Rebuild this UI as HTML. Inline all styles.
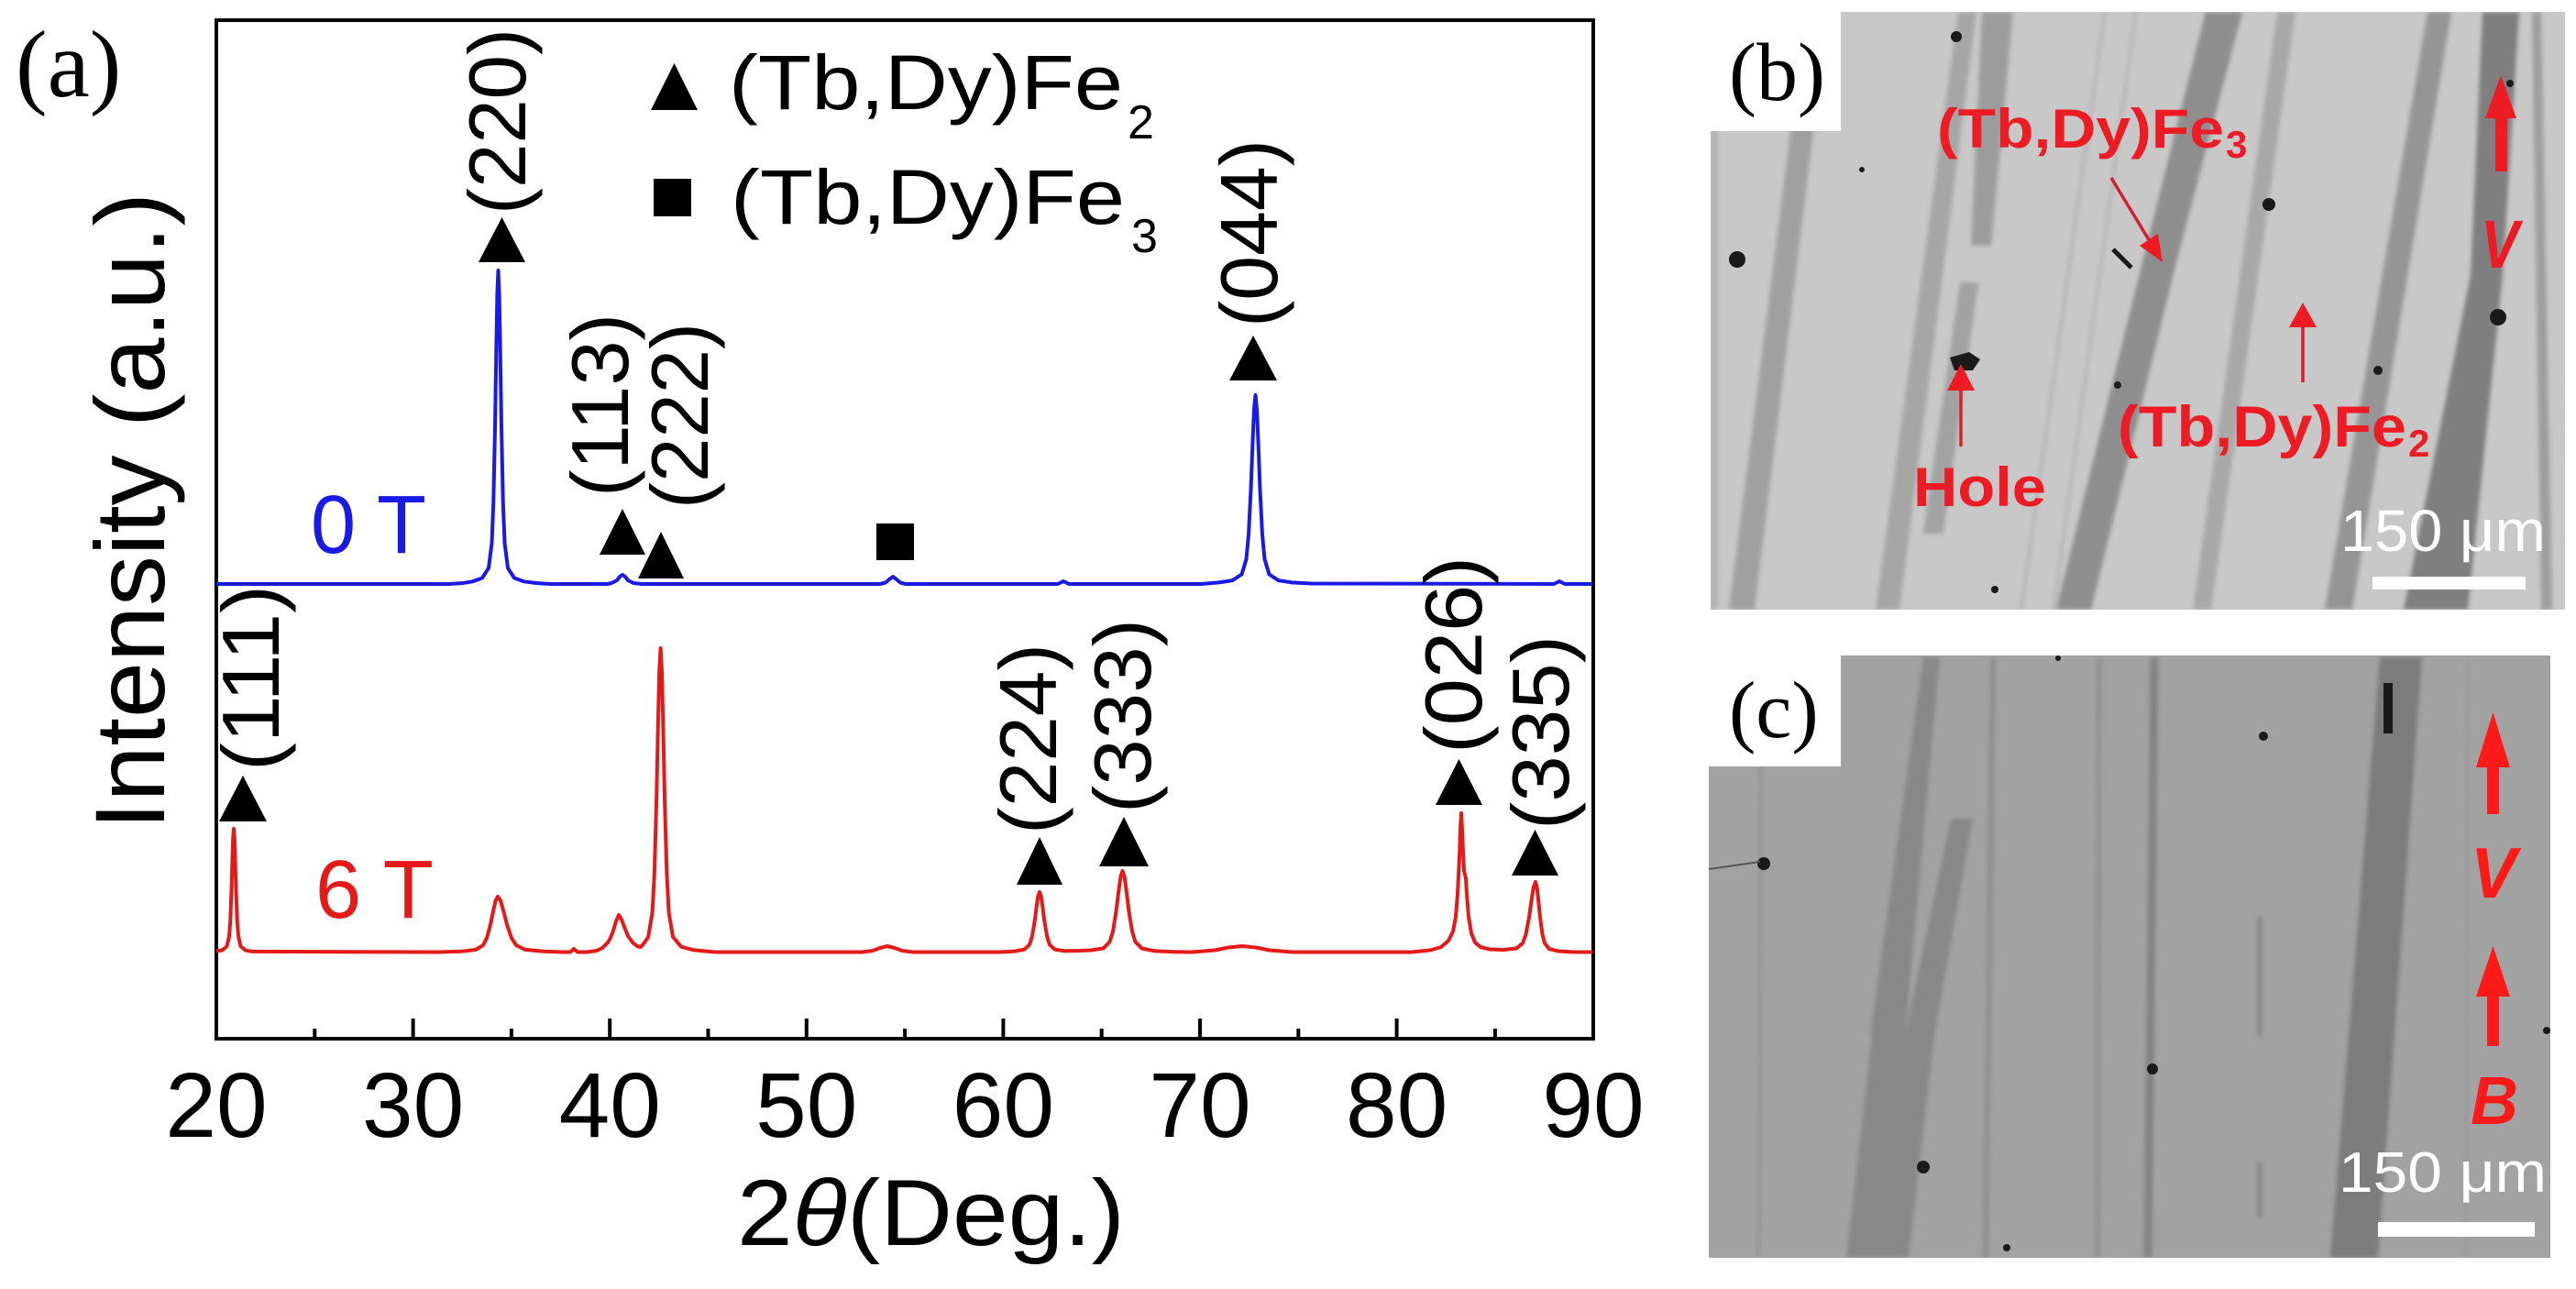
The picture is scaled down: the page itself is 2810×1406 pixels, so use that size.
<!DOCTYPE html>
<html>
<head>
<meta charset="utf-8">
<style>
  html,body{margin:0;padding:0;background:#fff;}
  svg{display:block;}
  .s{font-family:"Liberation Sans",Arial,sans-serif;}
  .sr{font-family:"Liberation Serif","Times New Roman",serif;}
</style>
</head>
<body>
<svg width="2810" height="1406" viewBox="0 0 2810 1406" xmlns="http://www.w3.org/2000/svg">
  <rect x="0" y="0" width="2810" height="1406" fill="#ffffff"/>

  <!-- ================= Panel (a) ================= -->
  <text class="sr" x="17" y="105" font-size="104" fill="#000">(a)</text>

  <!-- frame -->
  <rect x="236" y="22" width="1502" height="1111" fill="none" stroke="#000" stroke-width="4"/>

  <!-- ticks -->
  <g stroke="#000" stroke-width="4">
    <line x1="236" y1="1133" x2="236" y2="1111"/>
    <line x1="450.6" y1="1133" x2="450.6" y2="1111"/>
    <line x1="665.2" y1="1133" x2="665.2" y2="1111"/>
    <line x1="879.8" y1="1133" x2="879.8" y2="1111"/>
    <line x1="1094.4" y1="1133" x2="1094.4" y2="1111"/>
    <line x1="1309" y1="1133" x2="1309" y2="1111"/>
    <line x1="1523.6" y1="1133" x2="1523.6" y2="1111"/>
    <line x1="1738" y1="1133" x2="1738" y2="1111"/>
    <line x1="343.3" y1="1133" x2="343.3" y2="1122"/>
    <line x1="557.9" y1="1133" x2="557.9" y2="1122"/>
    <line x1="772.5" y1="1133" x2="772.5" y2="1122"/>
    <line x1="987.1" y1="1133" x2="987.1" y2="1122"/>
    <line x1="1201.7" y1="1133" x2="1201.7" y2="1122"/>
    <line x1="1416.3" y1="1133" x2="1416.3" y2="1122"/>
    <line x1="1630.9" y1="1133" x2="1630.9" y2="1122"/>
  </g>

  <!-- tick labels -->
  <g class="s" font-size="100" fill="#000" text-anchor="middle">
    <text x="236" y="1240">20</text>
    <text x="450.6" y="1240">30</text>
    <text x="665.2" y="1240">40</text>
    <text x="879.8" y="1240">50</text>
    <text x="1094.4" y="1240">60</text>
    <text x="1309" y="1240">70</text>
    <text x="1523.6" y="1240">80</text>
    <text x="1738" y="1240">90</text>
  </g>

  <!-- axis titles -->
  <text class="s" x="804" y="1358" font-size="102" fill="#000" textLength="423" lengthAdjust="spacingAndGlyphs">2<tspan font-style="italic">θ</tspan>(Deg.)</text>
  <text class="s" transform="translate(179,905) rotate(-90)" font-size="108" fill="#000" textLength="695" lengthAdjust="spacingAndGlyphs">Intensity (a.u.)</text>

  <!-- blue 0T curve -->
  <path fill="none" stroke="#1a1ae6" stroke-width="4" stroke-linejoin="round" d="M236,637 L490,637 L505,636 L515.5,634.3 L526,630.5 L533,619.6 L536.5,592.2 L538.25,548.4 L540,466 L541.4,378.1 L542.45,319.6 L543.5,295 L544.55,319.6 L545.6,378.1 L547,466 L548.75,548.4 L550.5,592.2 L554,619.6 L561,630.5 L571.5,634.3 L585,636 L600,637 L663,637 L667,636 L673,633 L676,629 L679,627 L682,629 L685,633 L691,636 L700,637 L960,637 L966,635.5 L970,632 L974,629 L978,632 L982,635.5 L988,637 L1154,637 L1160,634 L1166,637 L1310,637 L1329.5,635.4 L1344.5,633.1 L1354.5,626.5 L1359.5,610 L1362,583.6 L1364.5,534 L1366.5,481.1 L1368,445.8 L1369.5,431 L1371,445.8 L1372.5,481.1 L1374.5,534 L1377,583.6 L1379.5,610 L1384.5,626.5 L1394.5,633.1 L1409.5,635.4 L1430,636.5 L1695,637 L1701,634 L1707,637 L1737,637"/>

  <!-- red 6T curve -->
  <path fill="none" stroke="#e61919" stroke-width="4" stroke-linejoin="round" d="M236,1037.5 L242.5,1036.4 L247.5,1032.1 L250,1021.3 L251.25,1004 L252.5,971.5 L253.5,936.8 L254.25,913.7 L255,904 L255.75,913.7 L256.5,936.8 L257.5,971.5 L258.75,1004 L260,1021.3 L262.5,1032.1 L267.5,1036.4 L275,1037.9 L479,1038.5 L503,1037.8 L519,1035.9 L527,1031 L531,1023.2 L535,1008.5 L538.2,992.8 L540.6,982.4 L543,978 L546,982.4 L549,992.8 L553,1008.5 L558,1023.2 L563,1031 L573,1035.9 L593,1037.8 L615,1038.5 L622,1038.5 L626,1035 L630,1038.5 L640,1038.5 L651,1037 L657,1034 L663,1028 L666,1023 L669,1015 L672,1005 L675,998 L678,1003 L681,1011 L685,1021 L690,1028 L695,1032 L699,1033 L703,1028 L707.1,1022.1 L711.6,995.5 L713.85,953 L716.1,873 L717.9,787.7 L719.25,730.9 L720.6,707 L721.95,730.9 L723.3,787.7 L725.1,873 L727.35,953 L729.6,995.5 L734.1,1022.1 L743.1,1032.7 L756.6,1036.3 L780,1038.5 L940,1038.5 L952,1037 L960,1034 L968,1032 L976,1034 L984,1037 L996,1038.5 L1090,1038.5 L1106.5,1037.7 L1117.5,1035.6 L1123,1030.4 L1125.75,1021.9 L1128.5,1006 L1130.7,989 L1132.35,977.8 L1134,973 L1135.65,977.8 L1137.3,989 L1139.5,1006 L1142.25,1021.9 L1145,1030.4 L1150.5,1035.6 L1161.5,1037.3 L1178,1037 L1189.5,1036.5 L1203.5,1034.5 L1210.5,1027.3 L1214,1015.9 L1217.5,994.5 L1220.3,971.6 L1222.4,956.4 L1224.5,950 L1226.6,956.4 L1228.7,971.6 L1231.5,994.5 L1235,1015.9 L1238.5,1027.3 L1245.5,1034.5 L1259.5,1037.3 L1280.5,1038.3 L1300,1038.5 L1325,1036.5 L1340,1033.5 L1355,1032 L1370,1033.5 L1385,1036.5 L1410,1038.5 L1540,1038.5 L1560,1036.5 L1572,1033 L1580,1026 L1585,1016 L1588,1000 L1590,975 L1592,935 L1593,905 L1594,887 L1595,905 L1596,930 L1597,950 L1599,958 L1600,975 L1602,1000 L1605,1018 L1609,1028 L1615,1033 L1625,1035.5 L1640,1036 L1654,1034.5 L1661,1028.9 L1664.5,1019.1 L1668,1000.5 L1670.8,980.7 L1672.9,967.5 L1675,962 L1676.5,967.5 L1678,980.7 L1680,1000.5 L1682.5,1019.1 L1685,1028.9 L1690,1035.1 L1700,1037.5 L1715,1038.4 L1737,1038.5"/>

  <!-- curve labels -->
  <text class="s" x="339" y="603" font-size="90" fill="#1a1ae6" textLength="126" lengthAdjust="spacingAndGlyphs">0 T</text>
  <text class="s" x="344" y="1001" font-size="90" fill="#e61919" textLength="129" lengthAdjust="spacingAndGlyphs">6 T</text>

  <!-- markers -->
  <g fill="#000">
    <polygon points="547.5,237 522,286 573,286"/>
    <polygon points="679,555 654,605 704,605"/>
    <polygon points="721,580 696,631 746,631"/>
    <polygon points="1367,366 1341,415 1393,415"/>
    <polygon points="265,846 239,896 291,896"/>
    <polygon points="1134,913 1109,965 1159,965"/>
    <polygon points="1226,891 1199,945 1253,945"/>
    <polygon points="1591.5,828 1566,878 1617,878"/>
    <polygon points="1674.5,905 1649,955 1700,955"/>
    <rect x="956" y="571" width="41" height="40"/>
    <!-- legend -->
    <polygon points="735.5,69 710,120 761,120"/>
    <rect x="713" y="195" width="41" height="41"/>
  </g>

  <!-- legend text -->
  <g class="s" fill="#000">
    <text x="795" y="119" font-size="84" textLength="430" lengthAdjust="spacingAndGlyphs">(Tb,Dy)Fe</text>
    <text x="1230" y="151" font-size="52">2</text>
    <text x="797" y="244" font-size="84" textLength="430" lengthAdjust="spacingAndGlyphs">(Tb,Dy)Fe</text>
    <text x="1234" y="275" font-size="52">3</text>
  </g>

  <!-- hkl labels (rotated) -->
  <g class="s" font-size="88" fill="#000">
    <text transform="translate(573,234) rotate(-90)" textLength="203" lengthAdjust="spacingAndGlyphs">(220)</text>
    <text transform="translate(685,542) rotate(-90)" textLength="200" lengthAdjust="spacingAndGlyphs">(113)</text>
    <text transform="translate(772,555) rotate(-90)" textLength="203" lengthAdjust="spacingAndGlyphs">(222)</text>
    <text transform="translate(1393,357) rotate(-90)" textLength="205" lengthAdjust="spacingAndGlyphs">(044)</text>
    <text transform="translate(304,841) rotate(-90)" textLength="203" lengthAdjust="spacingAndGlyphs">(111)</text>
    <text transform="translate(1152,910) rotate(-90)" textLength="208" lengthAdjust="spacingAndGlyphs">(224)</text>
    <text transform="translate(1255,887) rotate(-90)" textLength="212" lengthAdjust="spacingAndGlyphs">(333)</text>
    <text transform="translate(1616,822) rotate(-90)" textLength="215" lengthAdjust="spacingAndGlyphs">(026)</text>
    <text transform="translate(1711,905) rotate(-90)" textLength="212" lengthAdjust="spacingAndGlyphs">(335)</text>
  </g>

  <!-- ================= Panel (b) ================= -->
  <defs>
    <filter id="soft" x="-5%" y="-5%" width="110%" height="110%">
      <feGaussianBlur stdDeviation="2.5"/>
    </filter>
    <clipPath id="clipb"><rect x="1866" y="13" width="932" height="652"/></clipPath>
    <clipPath id="clipc"><rect x="1864" y="715" width="918" height="657"/></clipPath>
  </defs>

  <rect x="1866" y="13" width="932" height="652" fill="#c8c8c8"/>
  <g clip-path="url(#clipb)" filter="url(#soft)">
    <polygon points="1866,13 1874,13 1874,665 1866,665" fill="#b4b4b4"/>
    <polygon points="1970,13 1994,13 1914,665 1886,665" fill="#a0a0a0"/>
    <polygon points="2136,13 2156,13 2072,665 2046,665" fill="#a6a6a6"/>
    <polygon points="2162,13 2196,13 2172,268 2150,268" fill="#9c9c9c"/>
    <polygon points="2138,308 2158,308 2120,582 2098,582" fill="#a2a2a2"/>
    <polygon points="2406,13 2446,13 2374,286 2281,665 2243,665 2337,286" fill="#8e8e8e"/>
    <polygon points="2484,13 2504,13 2412,665 2392,665" fill="#a8a8a8"/>
    <polygon points="2648,13 2674,13 2566,665 2536,665" fill="#959595"/>
    <polygon points="2708,13 2748,13 2730,300 2692,665 2622,665 2695,300" fill="#7f7f7f"/>
    <polygon points="2762,13 2772,13 2784,665 2772,665" fill="#9e9e9e"/>
    <line x1="2296" y1="13" x2="2205" y2="665" stroke="#b0b0b0" stroke-width="3"/>
    <line x1="2330" y1="13" x2="2240" y2="665" stroke="#b2b2b2" stroke-width="3"/>
  </g>
  <g fill="#1a1a1a">
    <circle cx="1895" cy="283" r="9"/>
    <path d="M2127,390 L2148,384 L2160,392 L2152,404 L2132,404 Z"/>
    <circle cx="2134" cy="40" r="6"/>
    <line x1="2305" y1="272" x2="2325" y2="292" stroke="#1a1a1a" stroke-width="5"/>
    <circle cx="2475" cy="223" r="7"/>
    <circle cx="2725" cy="346" r="9"/>
    <circle cx="2738" cy="91" r="4"/>
    <circle cx="2594" cy="404" r="5"/>
    <circle cx="2310" cy="420" r="4"/>
    <circle cx="2031" cy="185" r="3"/>
    <circle cx="2176" cy="643" r="4"/>
  </g>

  <rect x="1866" y="13" width="142" height="130" fill="#ffffff"/>
  <text class="sr" x="1886" y="109" font-size="90" fill="#000">(b)</text>

  <!-- red annotations b -->
  <g fill="#ed1c24" stroke="none">
    <text class="s" x="2113" y="161" font-size="60" font-weight="bold" textLength="313" lengthAdjust="spacingAndGlyphs">(Tb,Dy)Fe</text>
    <text class="s" x="2428" y="172" font-size="42" font-weight="bold">3</text>
    <text class="s" x="2087" y="552" font-size="60" font-weight="bold" textLength="145" lengthAdjust="spacingAndGlyphs">Hole</text>
    <text class="s" x="2310" y="487" font-size="63" font-weight="bold" textLength="315" lengthAdjust="spacingAndGlyphs">(Tb,Dy)Fe</text>
    <text class="s" x="2627" y="498" font-size="42" font-weight="bold">2</text>
  </g>
  <g stroke="#d42030" stroke-width="3.5" fill="none">
    <line x1="2303" y1="194" x2="2348" y2="268"/>
    <line x1="2139" y1="487" x2="2139" y2="420"/>
    <line x1="2512" y1="417" x2="2512" y2="352"/>
  </g>
  <g fill="#ed1c24">
    <polygon points="2359,286 2334,268 2354,255"/>
    <polygon points="2139,397 2124,426 2154,426"/>
    <polygon points="2512,330 2497,357 2527,357"/>
    <!-- V arrow -->
    <polygon points="2728,82 2745,129 2711,129"/>
    <rect x="2722" y="128" width="13" height="59"/>
    <text class="s" x="2706" y="292" font-size="74" font-weight="bold" font-style="italic" textLength="42" lengthAdjust="spacingAndGlyphs">V</text>
  </g>

  <!-- scale bar b -->
  <text class="s" x="2553" y="601" font-size="64" fill="#ffffff" textLength="224" lengthAdjust="spacingAndGlyphs">150 μm</text>
  <rect x="2588" y="629" width="167" height="14" fill="#ffffff"/>

  <!-- ================= Panel (c) ================= -->
  <rect x="1864" y="715" width="918" height="657" fill="#a2a2a2"/>
  <g clip-path="url(#clipc)" filter="url(#soft)">
    <line x1="1922" y1="717" x2="1918" y2="1372" stroke="#959595" stroke-width="4"/>
    <polygon points="2098,717 2116,717 2078,1130 2040,1130" fill="#888888"/>
    <polygon points="2128,893 2152,893 2110,1130 2082,1372 2014,1372 2042,1130 2080,1120" fill="#888888"/>
    <line x1="2174" y1="717" x2="2166" y2="1372" stroke="#8e8e8e" stroke-width="6"/>
    <line x1="2290" y1="717" x2="2288" y2="1372" stroke="#939393" stroke-width="6"/>
    <line x1="2350" y1="717" x2="2343" y2="1372" stroke="#838383" stroke-width="9"/>
    <line x1="2465" y1="1000" x2="2465" y2="1130" stroke="#888888" stroke-width="6"/>
    <line x1="2465" y1="1268" x2="2465" y2="1328" stroke="#888888" stroke-width="6"/>
    <polygon points="2596,717 2642,717 2594,1372 2542,1372" fill="#7b7b7b"/>
    <line x1="2692" y1="717" x2="2690" y2="1372" stroke="#999999" stroke-width="3"/>
  </g>
  <g fill="#1a1a1a">
    <rect x="2600" y="745" width="10" height="55"/>
    <circle cx="1924" cy="942" r="7"/>
    <circle cx="2469" cy="803" r="5"/>
    <circle cx="2348" cy="1166" r="6"/>
    <circle cx="2098" cy="1273" r="7"/>
    <circle cx="2189" cy="1361" r="4"/>
    <circle cx="2778" cy="1124" r="4"/>
    <circle cx="2245" cy="718" r="3"/>
  </g>
  <line x1="1864" y1="948" x2="1920" y2="940" stroke="#555" stroke-width="2"/>

  <rect x="1864" y="715" width="144" height="121" fill="#ffffff"/>
  <text class="sr" x="1886" y="804" font-size="88" fill="#000">(c)</text>

  <g fill="#ff1a1a">
    <polygon points="2719.5,777 2738,837 2701,837"/>
    <rect x="2713" y="836" width="13" height="52"/>
    <text class="s" x="2695" y="979" font-size="78" font-weight="bold" font-style="italic" textLength="50" lengthAdjust="spacingAndGlyphs">V</text>
    <polygon points="2719.5,1032 2738,1087 2701,1087"/>
    <rect x="2713" y="1086" width="13" height="55"/>
    <text class="s" x="2695" y="1226" font-size="74" font-weight="bold" font-style="italic" textLength="52" lengthAdjust="spacingAndGlyphs">B</text>
  </g>

  <text class="s" x="2551" y="1300" font-size="62" fill="#ffffff" textLength="227" lengthAdjust="spacingAndGlyphs">150 μm</text>
  <rect x="2594" y="1333" width="171" height="16" fill="#ffffff"/>
</svg>
</body>
</html>
